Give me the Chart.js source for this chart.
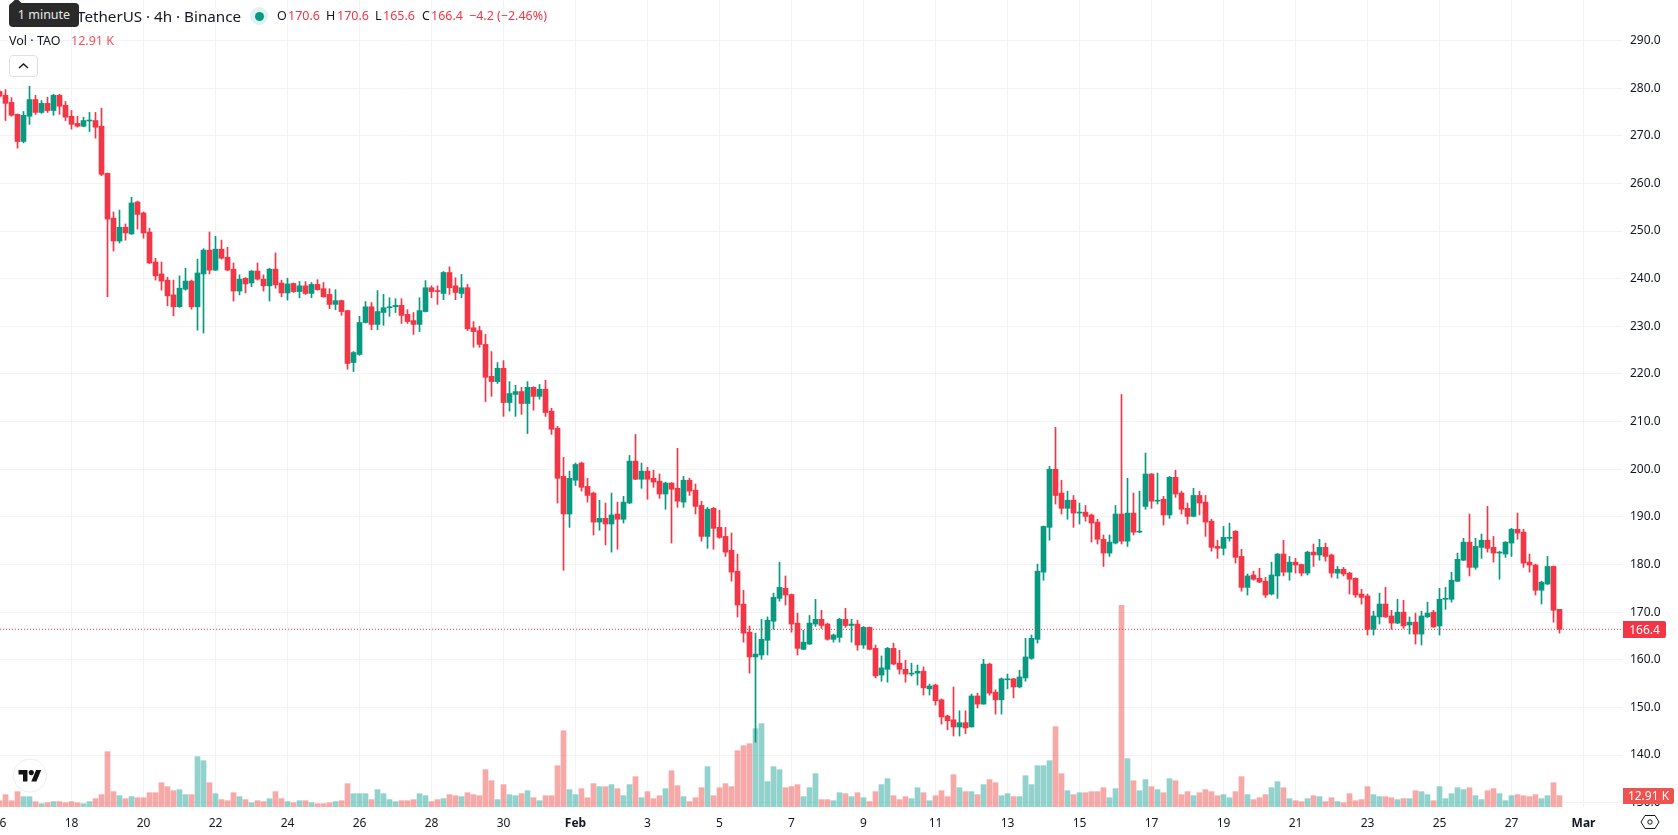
<!DOCTYPE html>
<html>
<head>
<meta charset="utf-8">
<title>TAO / TetherUS 4h</title>
<script src="https://cdn.jsdelivr.net/npm/chart.js@4"></script>
<style>
  html, body { margin: 0; padding: 0; background: #fff; width: 1678px; height: 835px; overflow: hidden; }
  body { position: relative; font-family: "Noto Sans", sans-serif; color: #131722; }
  canvas { position: absolute; left: 0; top: 0; }
  .t { position: absolute; white-space: nowrap; line-height: 18px; }
  .red { color: #f23645; }
  #tip { position: absolute; left: 9px; top: 3px; width: 70px; height: 24px; background: #2a2a2a; border-radius: 4px;
         color: #e8e8e8; font-size: 12.5px; line-height: 24px; text-align: center; }
  #tipArrow { position: absolute; left: 12px; top: 0px; width: 9px; height: 9px; background: #2a2a2a; transform: rotate(45deg); border-radius: 2px; }
  #dotHalo { position: absolute; left: 250px; top: 7px; width: 18px; height: 18px; border-radius: 50%; background: rgba(8,153,129,.13); }
  #dot { position: absolute; left: 254.5px; top: 11.5px; width: 9px; height: 9px; border-radius: 50%; background: #089981; }
  #collapse { position: absolute; left: 9px; top: 55px; width: 27px; height: 20px; border: 1px solid #e0e0e0; border-radius: 4px; background: #fff; }
  #priceTag { position: absolute; left: 1623px; top: 621px; width: 43px; height: 17px; background: #f23645; color: #fff; font-size: 12px;
              line-height: 17px; text-align: center; border-radius: 0 2px 2px 0; }
  #volTag { position: absolute; left: 1623px; top: 788px; width: 51px; height: 16px; background: #ef5350; color: #fff; font-size: 12px;
            line-height: 16px; text-align: center; border-radius: 0 2px 2px 0; }
  svg { position: absolute; }
</style>
</head>
<body>
<canvas id="chart" width="1678" height="835"></canvas>

<div class="t" id="pair" style="left:77px;top:7px;font-size:15.2px">TetherUS · 4h · Binance</div>
<div id="tipArrow"></div>
<div id="tip">1 minute</div>
<div id="dotHalo"></div><div id="dot"></div>
<div class="t" style="left:277px;top:7px;font-size:12.5px">O</div><div class="t red" style="left:288px;top:7px;font-size:12.5px">170.6</div>
<div class="t" style="left:326px;top:7px;font-size:12.5px">H</div><div class="t red" style="left:337px;top:7px;font-size:12.5px">170.6</div>
<div class="t" style="left:375px;top:7px;font-size:12.5px">L</div><div class="t red" style="left:383px;top:7px;font-size:12.5px">165.6</div>
<div class="t" style="left:422px;top:7px;font-size:12.5px">C</div><div class="t red" style="left:431px;top:7px;font-size:12.5px">166.4</div>
<div class="t red" style="left:469px;top:7px;font-size:12.5px">−4.2 (−2.46%)</div>
<div class="t" style="left:9px;top:32px;font-size:12.5px">Vol · TAO</div>
<div class="t" style="left:71px;top:32px;font-size:12.5px;color:#f7525f">12.91 K</div>
<div id="collapse"></div>
<svg style="left:9px;top:55px" width="29" height="22"><path d="M10 13 L14.5 9 L19 13" fill="none" stroke="#131722" stroke-width="1.4"/></svg>

<svg style="left:12px;top:758px" width="36" height="36">
  <circle cx="18" cy="17.5" r="16.5" fill="#fff" stroke="#ececec" stroke-width="1"/>
  <g transform="translate(6.5,9.5) scale(0.64)" fill="#131313">
    <path d="M14 22H7V11H0V4h14v18zM28 22h-8l7.5-18h8L28 22z"/><circle cx="20" cy="8" r="4"/>
  </g>
</svg>

<div id="priceTag">166.4</div>
<div id="volTag">12.91 K</div>
<svg style="left:1640px;top:812px" width="20" height="20">
  <path d="M5 3.5 H15 L19 10 L15 16.5 H5 L1 10 Z" fill="none" stroke="#131722" stroke-width="1"/>
  <circle cx="10" cy="10" r="2.2" fill="none" stroke="#131722" stroke-width="1"/>
</svg>

<script>
// TAO/USDT 4h candles, oldest first, prices in USDT
const opens = [279.3,278.5,277.0,274.5,268.8,274.1,277.6,274.9,276.8,275.3,278.5,276.4,274.1,272.6,272.0,273.1,273.2,272.0,262.1,252.7,247.9,250.8,249.4,256.1,253.8,249.8,243.5,241.0,239.7,236.6,234.1,237.8,239.5,234.1,241.0,246.0,241.8,246.2,244.5,242.0,237.4,240.1,239.1,241.6,239.9,238.5,242.0,239.1,237.0,
239.0,237.3,238.5,236.9,238.8,237.9,236.7,234.6,235.4,233.3,222.4,224.1,230.8,234.1,230.4,232.9,233.9,234.1,234.4,232.5,231.2,230.4,233.1,238.1,237.5,236.9,241.3,238.5,236.9,238.1,229.7,229.1,226.2,219.5,218.4,221.2,214.0,215.7,216.3,213.8,217.2,215.3,216.8,212.2,
208.6,198.5,190.6,197.7,201.3,196.4,195.0,188.9,189.7,188.5,190.6,189.5,192.9,201.7,197.9,199.6,198.1,197.5,194.8,197.1,196.0,193.1,197.7,195.6,192.4,185.9,191.8,187.8,185.9,183.0,178.6,171.7,165.8,160.6,161.0,164.1,168.1,172.9,175.0,
173.7,167.7,162.2,163.3,167.5,168.5,167.5,164.3,164.7,168.5,167.2,167.5,163.1,166.8,162.4,156.8,158.0,162.4,159.3,158.0,157.0,157.2,157.6,153.9,154.7,151.6,148.2,147.4,145.9,146.8,145.9,152.4,150.7,159.1,153.2,151.6,155.8,156.0,154.3,
156.2,160.3,164.3,178.4,187.8,200.0,195.0,191.8,193.5,190.8,191.0,190.4,188.9,185.3,182.4,184.5,190.6,184.9,190.8,186.8,192.2,199.0,193.3,193.7,190.4,198.3,195.0,191.8,190.1,194.5,193.1,189.1,183.8,183.4,185.5,187.0,181.7,175.2,177.8,177.1,176.5,173.8,177.6,182.2,178.4,180.5,180.0,178.2,182.6,182.0,
183.6,182.0,178.2,179.0,178.2,177.1,173.8,173.4,166.4,169.0,171.7,169.2,167.7,170.0,167.3,167.9,165.4,169.0,170.0,167.1,172.7,172.7,176.5,180.9,184.7,179.4,183.6,185.1,183.6,182.4,182.2,184.5,187.4,186.8,180.5,179.9,174.6,175.9,179.6,170.6];

const highs = [279.5,279.7,278.0,274.6,275.1,280.4,278.5,277.4,278.1,278.7,278.7,277.2,275.3,274.1,273.9,274.9,274.9,275.8,262.2,254.0,254.4,251.5,257.1,256.3,254.0,250.6,244.3,243.5,240.3,239.7,240.6,242.2,239.7,244.1,246.3,249.8,248.9,248.1,246.6,243.3,240.8,240.2,241.7,243.3,240.8,242.2,245.4,239.7,240.1,
239.1,239.4,239.4,239.2,239.8,239.2,237.9,237.7,235.5,233.4,224.7,232.1,235.2,235.0,237.5,236.7,236.0,235.8,235.8,233.5,232.9,236.0,239.6,238.5,238.5,241.5,242.5,240.2,240.9,238.8,231.0,230.0,228.3,224.7,222.4,222.8,218.4,217.6,217.2,218.4,217.3,217.8,218.7,212.8,
209.0,202.5,199.6,201.3,201.5,198.1,195.2,193.5,192.9,195.0,193.1,194.3,202.9,207.3,201.3,200.4,199.8,199.0,197.3,197.2,204.4,198.5,198.1,196.9,193.3,192.0,192.0,191.4,187.8,186.6,182.2,174.6,167.1,165.6,168.5,169.0,174.0,180.5,177.6,
173.8,169.8,166.2,169.3,172.7,170.4,167.7,165.4,168.7,170.8,168.5,168.3,167.0,166.9,163.1,160.8,162.6,163.5,162.0,159.9,159.3,158.9,158.5,154.9,154.9,151.8,148.4,154.3,149.3,149.3,152.8,153.0,160.1,159.3,153.7,156.2,157.0,156.1,157.8,
164.5,165.2,180.1,188.1,200.6,208.8,197.7,195.4,194.5,192.9,192.4,190.6,189.5,186.2,186.2,192.4,215.7,198.1,195.0,195.4,203.4,199.1,199.2,194.3,198.5,199.8,195.4,192.9,196.0,195.4,194.5,189.5,185.1,188.0,188.7,187.1,183.2,178.0,178.6,179.2,177.3,180.5,182.3,185.1,181.7,181.3,180.1,182.8,184.3,185.3,
184.5,182.2,179.6,179.4,178.4,177.2,174.8,173.8,170.2,174.0,175.2,170.4,172.7,172.5,169.0,169.8,170.2,172.1,170.4,175.0,175.2,178.4,182.4,185.5,190.6,185.5,186.4,192.2,185.9,182.8,184.8,187.6,190.8,187.4,182.2,180.1,176.5,181.7,179.7,170.6];

const lows = [278.1,273.2,274.1,267.4,268.5,272.4,274.5,274.7,274.9,274.3,274.5,273.2,271.4,271.8,271.9,270.9,269.5,261.6,236.2,245.8,247.5,248.1,249.3,250.4,248.5,243.2,239.7,237.6,234.3,232.2,234.0,237.6,233.6,229.2,228.6,241.0,241.7,244.1,241.7,235.3,236.6,237.0,238.3,239.7,237.4,235.3,238.0,236.2,235.5,
237.1,236.0,236.7,236.0,237.6,236.1,233.7,233.5,232.3,221.0,220.5,223.9,230.7,229.3,229.3,230.2,232.1,232.9,230.6,230.6,228.3,228.9,233.0,236.0,234.6,235.6,236.7,235.6,236.0,229.1,225.6,225.6,214.2,215.3,218.0,211.1,212.2,211.1,211.5,207.5,212.4,214.7,211.1,207.3,
192.9,178.8,187.8,196.6,195.4,193.1,186.2,187.2,184.1,182.6,183.2,188.7,192.8,197.8,196.0,193.7,196.2,193.9,191.6,184.5,192.0,192.0,194.5,190.6,184.9,183.4,183.2,185.5,181.7,176.5,169.0,163.7,157.2,142.7,160.1,161.0,166.4,172.3,171.5,
165.8,161.0,162.1,163.2,167.0,166.6,164.1,163.7,163.7,166.8,163.7,162.0,162.4,162.1,156.2,155.5,155.3,159.0,157.0,155.3,156.6,154.7,152.6,152.6,150.5,146.5,145.3,144.0,144.0,144.5,145.9,149.9,150.7,152.6,148.6,148.6,153.9,152.0,154.1,
155.5,160.1,163.5,176.7,185.1,192.7,190.6,189.5,187.8,188.5,189.1,184.7,184.3,179.6,181.7,184.3,184.3,183.8,186.2,186.7,191.6,191.8,192.7,188.3,189.7,194.1,190.6,188.5,190.0,190.4,185.9,182.8,181.3,182.0,184.9,180.3,174.4,173.6,176.7,176.2,173.1,173.6,172.9,177.6,176.7,178.2,177.6,177.8,179.6,180.9,
180.7,177.3,177.1,177.6,173.8,173.1,171.7,165.2,165.2,167.5,168.9,166.4,167.6,166.6,165.4,163.3,163.1,168.9,166.8,165.2,170.6,172.1,176.4,180.8,177.6,179.0,181.3,182.6,180.5,176.9,181.5,181.7,185.3,179.4,178.4,173.6,171.7,175.8,167.9,165.6];

const closes = [278.3,276.8,274.3,268.8,274.3,277.6,274.9,276.8,275.3,278.5,276.2,273.9,272.4,272.0,273.2,273.2,271.8,261.9,252.5,247.9,250.8,249.6,255.9,253.5,249.6,243.3,240.6,239.5,236.4,234.1,238.0,239.5,234.1,241.2,246.0,241.8,246.2,244.3,241.8,237.4,239.9,238.9,241.6,239.9,238.5,242.0,238.7,237.0,238.9,
237.3,238.5,236.9,238.8,237.7,236.2,234.6,235.4,233.1,222.2,224.5,230.8,234.1,230.4,233.1,233.9,234.1,234.4,232.3,231.0,230.4,233.3,238.1,237.3,237.3,241.3,238.1,237.1,238.1,229.5,228.9,226.2,219.3,218.4,221.2,214.0,215.9,216.3,213.8,217.2,215.3,216.8,211.9,208.4,
198.1,190.6,198.1,201.0,196.2,194.5,188.9,189.7,188.5,190.4,189.5,193.1,201.7,197.9,199.6,197.9,197.3,194.8,197.1,195.8,193.3,197.7,195.4,192.2,185.9,191.6,187.6,185.7,182.6,178.4,171.5,165.6,160.6,161.2,164.3,168.3,173.1,175.2,173.6,
167.5,162.4,163.7,167.7,168.5,167.2,164.3,165.2,168.5,167.2,167.5,163.1,166.8,162.2,156.6,158.3,162.4,159.1,158.0,157.0,157.2,157.6,154.1,154.5,151.4,148.0,147.2,145.9,146.8,145.7,152.4,150.7,159.1,153.0,151.6,156.0,156.0,154.3,156.4,
160.6,164.5,178.6,188.0,200.0,194.5,191.8,193.5,190.8,191.0,190.1,188.7,185.3,182.4,184.7,190.6,184.9,190.8,186.8,186.8,199.0,193.3,193.5,190.4,198.3,194.8,191.6,190.1,194.5,192.9,188.9,183.6,183.4,185.7,185.5,181.5,175.2,177.6,176.9,176.3,173.6,177.8,182.2,178.4,180.5,179.9,178.2,182.6,182.0,183.6,
181.7,178.2,179.0,178.0,176.9,173.6,173.1,166.4,169.2,171.7,169.0,167.7,170.0,167.1,167.9,165.4,169.2,169.8,166.9,172.7,172.9,176.7,181.1,184.7,179.4,183.8,185.1,183.4,182.4,182.6,184.7,187.4,186.6,180.3,179.9,174.6,176.3,179.6,170.4,166.4];

// Traded volume per candle, in thousands of TAO
const volumes = [7.2,14.1,7.2,17.5,11.8,11.8,6.1,3.8,4.9,6.1,6.1,4.9,6.1,4.9,3.8,6.1,9.5,14.1,63.1,17.5,12.9,9.5,11.8,10.6,10.6,16.3,16.3,27.7,23.2,18.6,19.8,14.1,14.1,57.4,52.8,27.7,15.2,8.4,7.2,16.3,11.8,8.4,4.9,7.2,6.1,9.5,17.5,9.5,6.1,
4.9,7.2,7.2,4.9,3.8,3.8,4.9,6.1,7.2,26.6,15.2,15.2,15.2,8.4,19.8,15.2,8.4,6.1,7.2,7.2,8.4,15.2,12.9,6.1,8.4,9.5,14.1,12.9,11.8,16.3,14.1,12.9,42.6,30.0,8.4,25.5,14.1,12.9,15.2,18.6,10.6,7.2,12.9,12.9,
47.1,87.0,19.8,14.1,20.9,10.6,26.6,23.2,23.2,25.5,20.9,12.9,25.5,34.6,10.6,17.5,9.5,12.9,20.9,41.4,24.3,11.8,6.1,10.6,22.0,46.0,12.9,22.0,26.6,23.2,64.2,69.9,72.2,89.3,95.0,28.9,46.0,42.6,22.0,
23.2,25.5,11.8,22.0,38.0,8.4,8.4,7.2,16.3,15.2,11.8,16.3,10.6,6.1,17.5,25.5,32.3,12.9,8.4,11.8,9.5,22.0,16.3,7.2,12.9,18.6,11.8,36.9,22.0,17.5,17.5,14.1,25.5,31.2,27.7,12.9,15.2,11.8,11.8,
35.7,25.5,47.1,47.1,52.8,91.6,38.0,18.6,14.1,16.3,16.3,17.5,17.5,22.0,10.6,20.9,230,55.1,30.0,18.6,31.2,23.2,19.8,16.3,32.3,30.0,14.1,17.5,12.9,16.3,19.8,17.5,12.9,14.1,10.6,17.5,34.6,14.1,8.4,10.6,14.1,22.0,28.9,22.0,9.5,7.2,6.1,9.5,12.9,11.8,
6.1,10.6,6.1,4.9,15.2,7.2,8.4,23.2,14.1,11.8,11.8,10.6,8.4,9.5,9.5,18.6,17.5,14.1,7.2,23.2,9.5,15.2,22.0,19.8,22.0,12.9,8.4,18.6,20.9,15.2,7.2,12.9,14.1,12.9,11.8,14.1,9.5,12.9,27.7,12.91];

// Axis labels: candle index of each date tick, and its text
const dateTickIndex = [0,12,24,36,48,60,72,84,96,108,120,132,144,156,168,180,192,204,216,228,240,252,264];
const dateTickText = ["16","18","20","22","24","26","28","30","Feb","3","5","7","9","11","13","15","17","19","21","23","25","27","Mar"];
const priceTicks = [130,140,150,160,170,180,190,200,210,220,230,240,250,260,270,280,290];
const lastPrice = 166.4;

const UP = "#089981", DOWN = "#f23645";
const VOL_UP = "rgba(38,166,154,0.5)", VOL_DOWN = "rgba(239,83,80,0.5)";
const GRID = "#f3f3f3";

const isUp = i => closes[i] >= opens[i];
const candleColors = opens.map((_, i) => isUp(i) ? UP : DOWN);
const volumeColors = opens.map((_, i) => isUp(i) ? VOL_UP : VOL_DOWN);
const tickText = v => dateTickText[dateTickIndex.indexOf(v)] || "";

// One candle slot is 6px wide; the axis window keeps the last slots empty
const X_MIN = 0.5 / 6, X_MAX = 1622.5 / 6;

new Chart(document.getElementById("chart"), {
  type: "bar",
  data: {
    datasets: [
      { label: "Volume", yAxisID: "vol", order: 4, grouped: false, barThickness: 5,
        data: volumes.map((v, i) => ({ x: i, y: v })), backgroundColor: volumeColors },
      { label: "Wick", yAxisID: "y", order: 3, grouped: false, barThickness: 1,
        data: highs.map((h, i) => ({ x: i, y: [lows[i], h] })), backgroundColor: candleColors },
      { label: "Body", yAxisID: "y", order: 2, grouped: false, barThickness: 5, minBarLength: 1,
        data: opens.map((o, i) => ({ x: i, y: [o, closes[i]] })), backgroundColor: candleColors },
      { type: "line", label: "Last", yAxisID: "y", order: 1, pointRadius: 0, borderWidth: 1,
        borderColor: DOWN, borderDash: [1, 2],
        data: [{ x: X_MIN, y: lastPrice }, { x: X_MAX, y: lastPrice }] }
    ]
  },
  options: {
    responsive: false,
    animation: false,
    events: [],
    layout: { padding: 0 },
    plugins: { legend: { display: false }, tooltip: { enabled: false } },
    scales: {
      x: {
        type: "linear", min: X_MIN, max: X_MAX, offset: false,
        afterBuildTicks: s => { s.ticks = dateTickIndex.map(v => ({ value: v })); },
        afterFit: s => { s.height = 28; s.paddingLeft = 0; s.paddingRight = 0; },
        grid: { color: GRID, drawTicks: false, offset: false },
        border: { display: false },
        ticks: {
          autoSkip: false, maxRotation: 0, padding: 9, color: "#131722",
          font: c => ({ family: "Noto Sans", size: 12,
            weight: c.tick && /^[A-Z]/.test(tickText(c.tick.value)) ? "bold" : "normal" }),
          callback: v => tickText(v)
        }
      },
      y: {
        position: "right", min: 129.1, max: 298.5,
        afterBuildTicks: s => { s.ticks = priceTicks.map(v => ({ value: v })); },
        afterFit: s => { s.width = 56; s.paddingTop = 0; s.paddingBottom = 0; },
        grid: { color: GRID, drawTicks: false },
        border: { display: false },
        ticks: { padding: 8, color: "#131722", font: { family: "Noto Sans", size: 12 }, callback: v => v.toFixed(1) }
      },
      vol: {
        display: false, position: "right", min: 0, max: 920,
        grid: { display: false }
      }
    }
  }
});
</script>
</body>
</html>
